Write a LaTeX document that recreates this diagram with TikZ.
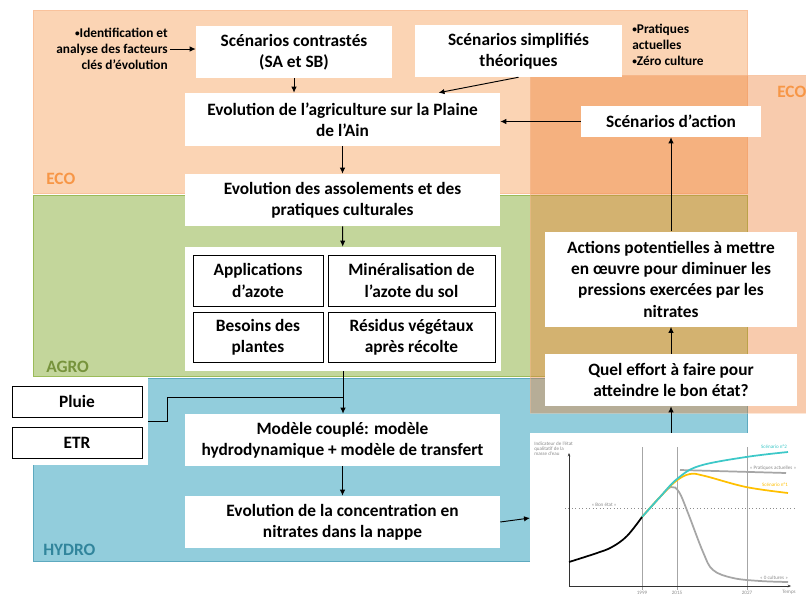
\documentclass[tikz,border=0pt]{standalone}
\usepackage{fontspec}
\setmainfont{Carlito}
\usetikzlibrary{arrows.meta,calc}

\definecolor{ecofill}{HTML}{FBD4B4}
\definecolor{ecoline}{HTML}{F9C29C}
\definecolor{ecotext}{HTML}{F79646}
\definecolor{agrofill}{HTML}{C3D69B}
\definecolor{agroline}{HTML}{9BBB59}
\definecolor{agrotext}{HTML}{77933C}
\definecolor{hydrofill}{HTML}{92CDDC}
\definecolor{hydroline}{HTML}{5DA9BF}
\definecolor{hydrotext}{HTML}{31859C}
\definecolor{actionfill}{HTML}{ED7D31}
\definecolor{scentwo}{HTML}{3CC8C8}
\definecolor{scenone}{HTML}{FFC000}
\definecolor{curvegray}{HTML}{A6A6A6}
\definecolor{labelgray}{HTML}{8C8C8C}

\newcommand{\smallbul}{{\fontsize{7}{7}\selectfont\raisebox{0.5pt}{•}}}

\tikzset{
  boxsize/.style 2 args={minimum width=#1*0.75pt, minimum height=#2*0.75pt},
  whitebox/.style={fill=white, align=center, inner sep=0pt, font=\fontsize{13}{16}\selectfont\bfseries},
  cellbox/.style={whitebox, draw=black, line width=0.6pt},
  bandlabel/.style={anchor=west, inner sep=0pt, font=\fontsize{13}{16}\selectfont\bfseries},
  notetext/.style={inner sep=0pt, font=\fontsize{10}{12}\selectfont\bfseries},
  flow/.style={-{Latex[length=4.5pt,width=4pt]}, line width=0.7pt},
  charttext/.style={inner sep=0pt, text=labelgray, font=\fontsize{3.8}{3.6}\selectfont},
}

\begin{document}
\begin{tikzpicture}[x=0.75pt, y=-0.75pt]
  \useasboundingbox (0,0) rectangle (806,596);

  % Draw the three bands
  \draw[fill=ecofill, draw=ecoline] (33,10) rectangle (747,193);
  \draw[fill=agrofill, draw=agroline] (33,195) rectangle (747,376);
  \draw[fill=hydrofill, draw=hydroline] (33,378) rectangle (747,561);
  \node[bandlabel, text=ecotext] (ecolab) at (46,179) {ECO};
  \node[bandlabel, text=agrotext] (agrolab) at (46,367) {AGRO};
  \node[bandlabel, text=hydrotext] (hydrolab) at (43,550) {HYDRO};

  % Draw the action part on top
  \draw[fill=actionfill, draw=ecoline, opacity=0.4] (530,75) rectangle (812,413);
  \node[bandlabel, text=ecotext] (ecolabr) at (777,92) {ECO};

  % White backgrounds for the climate inputs and the chart
  \node[fill=white, inner sep=0pt, boxsize={148}{87}] (meteo) at (74,421.5) {};
  \node[fill=white, inner sep=0pt, boxsize={276}{163}] (chart) at (668,514.5) {};

  % Draw the boxes
  \node[whitebox, boxsize={196}{52}] (contrastes) at (294,52) {Scénarios contrastés\\(SA et SB)};
  \node[whitebox, boxsize={207}{52}] (simplifies) at (518.5,51) {Scénarios simplifiés\\théoriques};
  \node[whitebox, boxsize={315}{53}] (evolution) at (342.5,119.5) {Evolution de l’agriculture sur la Plaine\\de l’Ain};
  \node[whitebox, boxsize={315}{52}] (assolements) at (342.5,200) {Evolution des assolements et des\\pratiques culturales};
  \node[whitebox, boxsize={316}{124}] (cells) at (343,309) {};
  \node[cellbox, boxsize={130}{51}] (azote) at (258,280.5) {Applications\\d’azote};
  \node[cellbox, boxsize={167}{51}] (mineral) at (411.5,280.5) {Minéralisation de\\l’azote du sol};
  \node[cellbox, boxsize={130}{50}] (besoins) at (258,337) {Besoins des\\plantes};
  \node[cellbox, boxsize={167}{50}] (residus) at (411.5,337) {Résidus végétaux\\après récolte};
  \node[whitebox, boxsize={315}{52}] (modele) at (342.5,440) {Modèle couplé: modèle\\hydrodynamique + modèle de transfert};
  \node[whitebox, boxsize={315}{52}] (concentration) at (342.5,522) {Evolution de la concentration en\\nitrates dans la nappe};
  \node[whitebox, boxsize={180}{31}] (scenaction) at (671,121.5) {Scénarios d’action};
  \node[whitebox, boxsize={252}{95}] (actions) at (671,279) {Actions potentielles à mettre\\en œuvre pour diminuer les\\pressions exercées par les\\nitrates};
  \node[whitebox, boxsize={252}{52}] (effort) at (671,380) {Quel effort à faire pour\\atteindre le bon état?};
  \node[cellbox, boxsize={130}{31}] (pluie) at (77,401.5) {Pluie};
  \node[cellbox, boxsize={130}{31}] (etr) at (77,442.5) {ETR};

  % Notes
  \node[notetext, align=right, anchor=east] (facteurs) at (168,49) {\smallbul Identification et\\analyse des facteurs\\clés d’évolution};
  \node[notetext, align=left, anchor=west] (pratiques) at (632,45) {\smallbul Pratiques\\actuelles\\\smallbul Zéro culture};

  % Draw the arrows
  \draw[flow] ([xshift=1.5pt]facteurs.east) -- (contrastes.west |- facteurs.east);
  \draw[flow] (contrastes.south) -- (contrastes.south |- evolution.north);
  \draw[flow] (simplifies.south) -- ($(evolution.north)+(96,0)$);
  \draw[flow] (scenaction.west) -- (evolution.east |- scenaction.west);
  \draw[flow] (evolution) -- (assolements);
  \draw[flow] (assolements) -- (cells);
  \draw[flow] (cells.south) -- (cells.south |- modele.north);
  \coordinate (join) at (343,397);
  \draw[line width=0.7pt] (meteo.east) -- ++(19,0) |- (join);
  \draw[flow] (modele) -- (concentration);
  \coordinate (chartin) at (530,518);
  \draw[flow] (concentration.east) -- (chartin);
  \draw[flow] (chart.north -| effort.south) -- (effort.south);
  \draw[flow] (effort) -- (actions);
  \draw[flow] (actions) -- (scenaction);

  % Draw the chart
  \foreach \yr/\xp in {1999/642, 2015/677, 2027/747} {
    \draw[curvegray, line width=0.6pt] (\xp,447) -- (\xp,590);
    \node[charttext] at (\xp,592.5) {\yr};
  }
  \node[charttext] at (789,592.5) {Temps};
  \draw[labelgray, dotted, line width=0.6pt] (565,508) -- (794,508);
  \node[charttext] at (604,505) {« Bon état »};
  \draw[black!80, line width=0.5pt, -{Stealth[length=2.5pt,width=2pt]}] (569,586) -- (569,453);
  \draw[black!80, line width=0.5pt, -{Stealth[length=2.5pt,width=2pt]}] (569,586) -- (791,586);
  \node[charttext, align=left, anchor=north west] at (534,442) {Indicateur de l’état\\qualitatif de la\\masse d’eau};

  \draw[curvegray, line width=1.3pt] plot[smooth, tension=0.6] coordinates {(642,517) (660,497) (671,487) (679,492) (688,513) (703,552) (713,570) (733,578) (760,581) (788,582)};
  \draw[curvegray, line width=1.3pt] (680,470) -- (786,473);
  \draw[scenone, line width=1.3pt] plot[smooth, tension=0.6] coordinates {(642,517) (660,497) (676,481) (690,474) (705,476) (746,487) (788,493)};
  \draw[scentwo, line width=1.3pt] plot[smooth, tension=0.6] coordinates {(642,517) (660,497) (677,479) (699,466) (746,457) (788,452)};
  \draw[black, line width=1.3pt] plot[smooth, tension=0.6] coordinates {(569,562) (597,553) (612,547) (627,536) (642,517)};
  \node[charttext, text=scentwo] at (774,447) {Scénario n°2};
  \node[charttext] at (773,468) {« Pratiques actuelles »};
  \node[charttext, text=scenone] at (775,485) {Scénario n°1};
  \node[charttext] at (774,578) {« 0 cultures »};
\end{tikzpicture}
\end{document}
